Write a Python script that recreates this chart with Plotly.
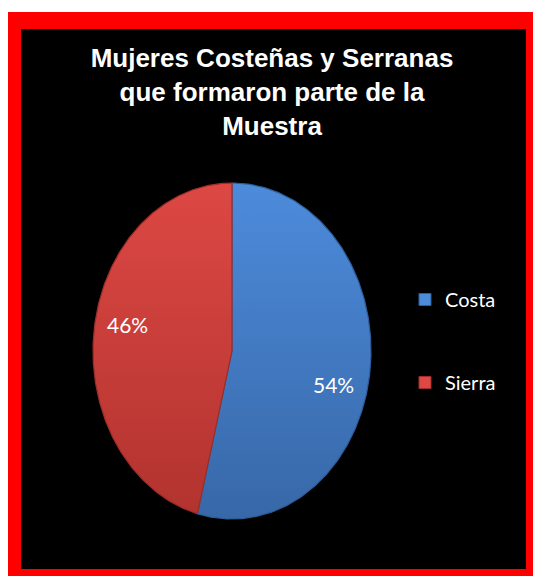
import numpy as np
import plotly.graph_objects as go

# Sample composition by region
categories = ["Costa", "Sierra"]
values = [54, 46]
pct_labels = ["54%", "46%"]

# Slice colours (light at the top of the slice, darker at the bottom)
top_colors = ["#4d8bdb", "#dd4844"]
bottom_colors = ["#3768a8", "#b2332f"]
edge_colors = ["#2f5d99", "#9e2c28"]

title_text = "Mujeres Costeñas y Serranas<br>que formaron parte de la<br>Muestra"

W, H = 533, 576
# Pie placement in pixels: centre and horizontal / vertical radii
CX, CY = 232, 351
RX, RY = 139, 168

x_range = [-CX / RX, (W - CX) / RX]
y_range = [-(H - CY) / RY, CY / RY]

fig = go.Figure()

total = float(sum(values))
start = 0.0
annotations = []
label_shift = [(-5, -17), (2, 10)]
for i, (name, val) in enumerate(zip(categories, values)):
    frac = val / total
    theta = np.linspace(start, start + frac, 240) * 2 * np.pi
    xs = np.concatenate([[0.0], np.sin(theta), [0.0]])
    ys = np.concatenate([[0.0], np.cos(theta), [0.0]])
    fig.add_trace(go.Scatter(
        x=xs, y=ys, mode="lines", fill="toself",
        fillgradient=dict(type="vertical",
                          colorscale=[[0, bottom_colors[i]], [1, top_colors[i]]]),
        line=dict(color=edge_colors[i], width=1.2),
        hoverinfo="skip", showlegend=False, name=name,
    ))
    mid = (start + frac / 2) * 2 * np.pi
    r = 0.77
    annotations.append(dict(
        x=r * np.sin(mid), y=r * np.cos(mid), xref="x", yref="y",
        text=pct_labels[i], showarrow=False,
        xshift=label_shift[i][0], yshift=label_shift[i][1],
        font=dict(family="Lato, Carlito, sans-serif", size=21, color="white"),
    ))
    start += frac

# Legend entries
for i, name in enumerate(categories):
    fig.add_trace(go.Scatter(
        x=[None], y=[None], mode="markers", name=name,
        legendgroup=name,
        marker=dict(symbol="square", size=12, color=top_colors[i],
                    line=dict(color=edge_colors[i], width=1)),
    ))

fig.update_layout(
    width=W, height=H,
    margin=dict(l=0, r=0, t=0, b=0),
    paper_bgcolor="white",
    plot_bgcolor="rgba(0,0,0,0)",
    xaxis=dict(range=x_range, visible=False, fixedrange=True),
    yaxis=dict(range=y_range, visible=False, fixedrange=True),
    title=dict(
        text=title_text, x=272 / W, xanchor="center",
        y=1 - 67 / H, yanchor="top", yref="container",
        font=dict(family="Liberation Sans, Arial, sans-serif", size=26,
                  color="white", weight="bold"),
    ),
    legend=dict(
        x=405 / W, xanchor="left", y=1 - 280 / H, yanchor="top",
        bgcolor="rgba(0,0,0,0)", borderwidth=0,
        font=dict(family="Lato, Carlito, sans-serif", size=20, color="white"),
        tracegroupgap=54, itemclick=False, itemdoubleclick=False,
    ),
    annotations=annotations,
    shapes=[
        dict(type="rect", xref="paper", yref="paper", layer="below",
             x0=8 / W, x1=1, y0=0, y1=1 - 12 / H,
             fillcolor="#ff0000", line=dict(width=0)),
        dict(type="rect", xref="paper", yref="paper", layer="below",
             x0=21 / W, x1=526 / W, y0=1 - 569 / H, y1=1 - 29 / H,
             fillcolor="black", line=dict(width=0)),
    ],
)

fig.write_html("out.html")
